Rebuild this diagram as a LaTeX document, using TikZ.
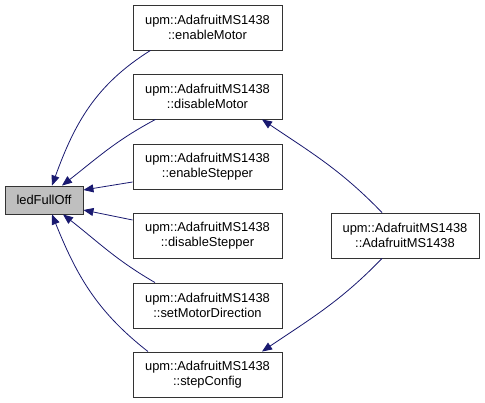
\documentclass[tikz,border=0pt]{standalone}
\usepackage{fontspec}
\setmainfont{Liberation Sans}
\usetikzlibrary{arrows.meta}
\definecolor{edgeblue}{HTML}{191970}
\definecolor{boxgray}{HTML}{BFBFBF}
\begin{document}
\begin{tikzpicture}[x=1pt,y=1pt,
  fn/.style={draw=black!80, line width=0.9pt, fill=white, minimum width=149pt, minimum height=45pt, inner sep=0pt, align=center, font=\fontsize{12.9}{14.5}\selectfont},
  cur/.style={draw=black!80, line width=0.9pt, fill=boxgray, minimum width=78pt, minimum height=28pt, inner sep=0pt, align=center, font=\fontsize{12.9}{14.5}\selectfont},
  edge/.style={draw=edgeblue, line width=0.8pt, -{Triangle[length=10pt,width=8pt]}}]
\useasboundingbox (0,0) rectangle (485,403);
\node[cur] (led) at (44,203) {ledFullOff};
\node[fn] (em) at (207.5,375.5) {upm::AdafruitMS1438\\::enableMotor};
\node[fn] (dm) at (207.5,306.5) {upm::AdafruitMS1438\\::disableMotor};
\node[fn] (es) at (207.5,236.5) {upm::AdafruitMS1438\\::enableStepper};
\node[fn] (ds) at (207.5,167.5) {upm::AdafruitMS1438\\::disableStepper};
\node[fn] (smd) at (207.5,97.5) {upm::AdafruitMS1438\\::setMotorDirection};
\node[fn] (sc) at (207.5,28.5) {upm::AdafruitMS1438\\::stepConfig};
\node[fn, minimum width=148pt] (ams) at (405,167.5) {upm::AdafruitMS1438\\::AdafruitMS1438};
\draw[edge] ([xshift=-57pt]em.south) to[out=212,in=70] ([xshift=8pt]led.north);
\draw[edge] ([xshift=-52pt]dm.south) to[out=208,in=38] ([xshift=18pt]led.north);
\draw[edge] ([yshift=-15.5pt]es.west) -- ([yshift=10pt]led.east);
\draw[edge] ([yshift=15.5pt]ds.west) -- ([yshift=-10pt]led.east);
\draw[edge] ([xshift=-52.5pt]smd.north) to[out=150,in=-38] ([xshift=19pt]led.south);
\draw[edge] ([xshift=-59.5pt]sc.north) to[out=142,in=-68] ([xshift=8pt]led.south);
\draw[edge] ([xshift=-23pt]ams.north) to[out=134,in=-34] ([xshift=54.5pt]dm.south);
\draw[edge] ([xshift=-23pt]ams.south) to[out=226,in=34] ([xshift=54.5pt]sc.north);
\end{tikzpicture}
\end{document}
